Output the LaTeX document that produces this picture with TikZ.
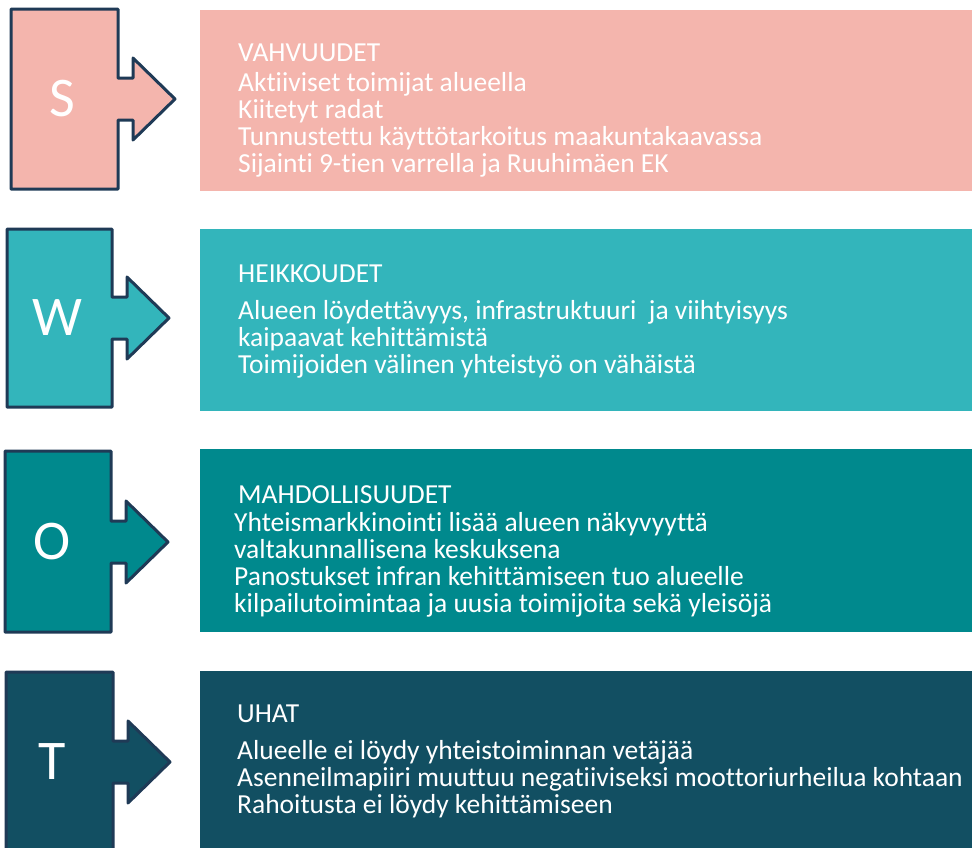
\documentclass[tikz,border=0pt]{standalone}
\usepackage{fontspec}
\setmainfont{Carlito}[Ligatures=NoCommon]
\usepackage{tikz}
\definecolor{swotS}{HTML}{F4B5AD}
\definecolor{swotW}{HTML}{33B5BB}
\definecolor{swotO}{HTML}{00898D}
\definecolor{swotT}{HTML}{124F62}
\definecolor{edge}{HTML}{1F3A56}
\tikzset{
    swot shape/.style={draw=edge, line width=3pt, line join=round}, % 左侧字母箭头框
    swot letter/.style={text=white, font=\fontsize{56}{56}\selectfont}, % 大字母
    swot head/.style={text=white, anchor=base west, inner sep=0pt, font=\fontsize{27.5}{27}\selectfont}, % 标题
    swot body/.style={swot head, align=left} % 正文, 锚点在最后一行
}

\begin{document}
\begin{tikzpicture}[x=1pt, y=-1pt]
    \useasboundingbox (0,0) rectangle (972,847);
    \clip (0,0) rectangle (972,847);

    % 右侧色带
    \fill[swotS] (200,10) rectangle (972,191);
    \fill[swotW] (200,229) rectangle (972,411);
    \fill[swotO] (200,449) rectangle (972,632);
    \fill[swotT] (200,671) rectangle (972,860);

    \foreach \col/\ltr/\xa/\xb/\ya/\yb/\yc/\lx in {swotS/S/11/118/9/189/99/62, swotW/W/7/112/229/407/318/57,
            swotO/O/5/111/451/632/542/52, swotT/T/6/113/672/860/762/52} {
        \draw[swot shape, fill=\col] (\xa,\ya) -- (\xb,\ya) -- (\xb,\yc-21) -- (\xb+15,\yc-21) -- (\xb+15,\yc-41)
            -- (\xb+57,\yc) -- (\xb+15,\yc+41) -- (\xb+15,\yc+21) -- (\xb,\yc+21) -- (\xb,\yb) -- (\xa,\yb) -- cycle;
        \node[swot letter] (letter-\ltr) at (\lx,\yc) {\ltr};
    }

    \node[swot head] (vahv-head) at (238,61) {VAHVUUDET};
    \node[swot body] (vahv-body) at (238,172) {Aktiiviset toimijat alueella\\Kiitetyt radat\\
        Tunnustettu käyttötarkoitus maakuntakaavassa\\Sijainti 9-tien varrella ja Ruuhimäen EK};

    \node[swot head] (heik-head) at (238,282) {HEIKKOUDET};
    \node[swot body] (heik-body) at (238,373) {Alueen löydettävyys, infrastruktuuri~ ja viihtyisyys\\
        kaipaavat kehittämistä\\Toimijoiden välinen yhteistyö on vähäistä};

    \node[swot head] (mahd-head) at (238,503) {MAHDOLLISUUDET};
    \node[swot body] (mahd-body) at (234,612) {Yhteismarkkinointi lisää alueen näkyvyyttä\\valtakunnallisena keskuksena\\
        Panostukset infran kehittämiseen tuo alueelle\\kilpailutoimintaa ja uusia toimijoita sekä yleisöjä};

    \node[swot head] (uhat-head) at (237,722) {UHAT};
    \node[swot body] (uhat-body) at (237,813) {Alueelle ei löydy yhteistoiminnan vetäjää\\
        Asenneilmapiiri muuttuu negatiiviseksi moottoriurheilua kohtaan\\Rahoitusta ei löydy kehittämiseen};
\end{tikzpicture}
\end{document}
